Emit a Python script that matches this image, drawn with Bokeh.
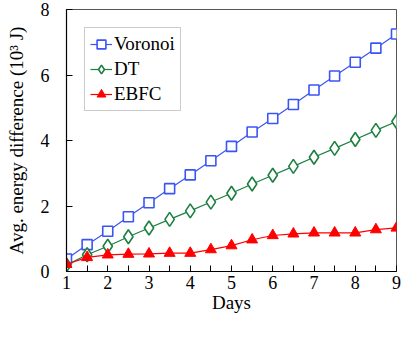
from bokeh.plotting import figure
from bokeh.models import FixedTicker, Range1d, Legend, LegendItem
from bokeh.embed import file_html
from bokeh.resources import INLINE

days = [1, 1.5, 2, 2.5, 3, 3.5, 4, 4.5, 5, 5.5, 6, 6.5, 7, 7.5, 8, 8.5, 9]
voronoi = [0.38, 0.82, 1.23, 1.67, 2.10, 2.53, 2.95, 3.38, 3.82, 4.26, 4.67, 5.10, 5.54, 5.97, 6.39, 6.82, 7.25]
dt = [0.20, 0.51, 0.77, 1.06, 1.33, 1.59, 1.85, 2.12, 2.39, 2.67, 2.94, 3.21, 3.49, 3.76, 4.03, 4.31, 4.58]
ebfc = [0.22, 0.43, 0.51, 0.53, 0.54, 0.56, 0.56, 0.67, 0.79, 0.97, 1.10, 1.15, 1.18, 1.18, 1.18, 1.28, 1.33]
x_ticks = [1, 2, 3, 4, 5, 6, 7, 8, 9]
x_minor = [1.5, 2.5, 3.5, 4.5, 5.5, 6.5, 7.5, 8.5]
y_ticks = [0, 2, 4, 6, 8]

FONT = "serif"

p = figure(width=401, height=321, output_backend="svg", toolbar_location=None,
           x_range=Range1d(1, 9), y_range=Range1d(0, 8),
           min_border_left=66, min_border_right=5, min_border_top=9, min_border_bottom=50)
p.grid.visible = False
p.outline_line_color = "#555555"
p.background_fill_color = "white"
p.border_fill_color = "white"

for ax in (p.xaxis[0], p.yaxis[0]):
    ax.axis_line_color = "black"
    ax.axis_line_width = 1.2
    ax.major_tick_line_color = "black"
    ax.minor_tick_line_color = "black"
    ax.major_tick_in = 6
    ax.major_tick_out = 0
    ax.minor_tick_in = 6
    ax.minor_tick_out = 0
    ax.major_label_text_font = FONT
    ax.major_label_text_font_size = "18px"
    ax.major_label_text_color = "black"
    ax.major_label_text_font_style = "normal"
    ax.axis_label_text_font = FONT
    ax.axis_label_text_font_size = "19px"
    ax.axis_label_text_font_style = "normal"
    ax.axis_label_text_color = "black"

p.xaxis[0].ticker = FixedTicker(ticks=x_ticks, minor_ticks=x_minor)
p.yaxis[0].ticker = FixedTicker(ticks=y_ticks, minor_ticks=[])
p.xaxis[0].major_label_standoff = 4
p.yaxis[0].major_label_standoff = 17
p.xaxis[0].axis_label = "Days"
p.yaxis[0].axis_label = "Avg. energy difference (10³ J)"
p.xaxis[0].axis_label_standoff = 0
p.yaxis[0].axis_label_standoff = 11

blue = "#3a55f5"
green = "#1b8040"
red = "#ff0000"

l1 = p.line(days, voronoi, line_color=blue, line_width=1.2)
m1 = p.scatter(days, voronoi, marker="square", size=10, fill_color="white",
               line_color=blue, line_width=1.6)
l2 = p.line(days, dt, line_color=green, line_width=1.2)
m2 = p.scatter(days, dt, marker="diamond", size=14, fill_color="white",
               line_color=green, line_width=1.6)
l3 = p.line(days, ebfc, line_color=red, line_width=1.2)
m3 = p.scatter(days, ebfc, marker="triangle", size=11, fill_color=red,
               line_color=red, line_width=1)

legend = Legend(items=[
    LegendItem(label="Voronoi", renderers=[l1, m1]),
    LegendItem(label="DT", renderers=[l2, m2]),
    LegendItem(label="EBFC", renderers=[l3, m3]),
], location="top_left")
legend.label_text_font = FONT
legend.label_text_font_style = "normal"
legend.label_text_font_size = "19px"
legend.label_text_color = "black"
legend.border_line_color = "#999999"
legend.border_line_width = 1
legend.background_fill_alpha = 1
legend.margin = 18
legend.padding = 5
legend.spacing = 3
legend.glyph_width = 22
legend.label_standoff = 2
legend.label_height = 22
legend.glyph_height = 22
p.add_layout(legend)

open("out.html", "w").write(file_html(p, INLINE))
